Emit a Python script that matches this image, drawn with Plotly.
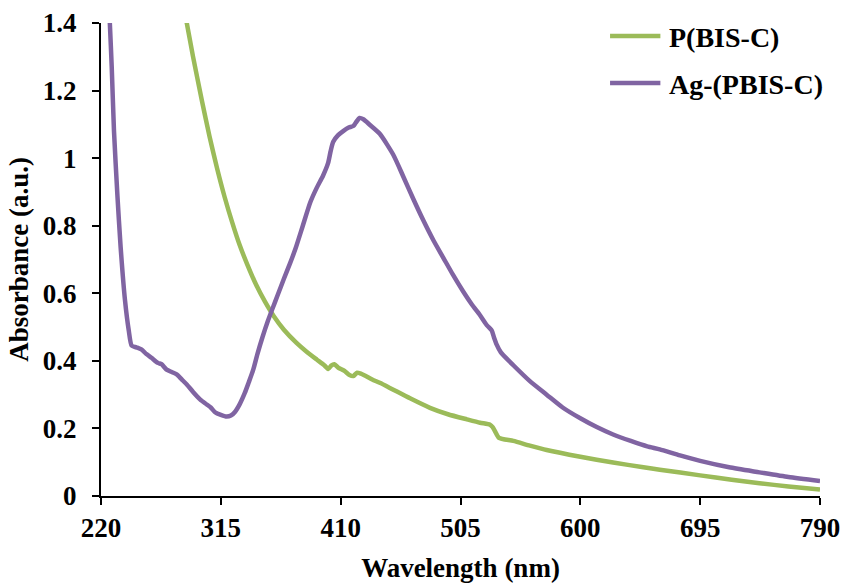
import plotly.graph_objects as go

# UV-Vis absorbance spectra
wl_pbis = [287, 293, 300, 306, 312, 318, 324, 330, 336, 343, 350, 357,
           365, 375, 383, 391, 397, 400.2, 402.5, 405, 408, 413, 417, 420, 423, 426, 435,
           441, 449, 465, 480.8, 495, 510, 520.5, 528.4, 530.5, 532.3, 535.5, 546.9, 560,
           573.3, 600, 626, 650, 663, 695, 720, 742, 765, 790]
abs_pbis = [1.42, 1.30, 1.17, 1.065, 0.97, 0.885, 0.81, 0.742, 0.685, 0.625, 0.575, 0.532,
            0.492, 0.453, 0.427, 0.404, 0.387, 0.376, 0.386, 0.39, 0.38, 0.37, 0.358, 0.355, 0.365, 0.362, 0.345,
            0.335, 0.32, 0.289, 0.261, 0.242, 0.227, 0.217, 0.211, 0.204, 0.192, 0.172, 0.163, 0.149,
            0.136, 0.116, 0.099, 0.085, 0.078, 0.061, 0.048, 0.038, 0.028, 0.019]

wl_ag = [223, 225, 227, 228.5, 230.3, 233, 235.5, 239, 242, 244.3, 248, 252, 256, 260, 265, 268,
         272, 276, 280, 284, 288, 293, 298.5, 303.8, 307, 310.4, 315, 319.6, 323, 326, 330, 334,
         337, 340.7, 344, 348, 352, 356, 360, 365, 370, 374, 380, 386, 391, 396,
         400, 402, 404, 408, 412, 416, 420, 422, 425, 428, 433, 441, 451.7, 459.7, 467.6,
         475.5, 483.5, 491.4, 499, 507, 514, 520.5, 526, 529.7, 531.5, 533.7, 537, 546.9, 560,
         573.3, 586, 600, 613, 626, 640, 653, 663, 679, 695, 718, 742, 765, 790]
abs_ag = [1.68, 1.55, 1.40, 1.27, 1.08, 0.89, 0.74, 0.58, 0.49, 0.445, 0.44, 0.434, 0.42, 0.409, 0.394, 0.39,
          0.374, 0.367, 0.36, 0.345, 0.33, 0.308, 0.286, 0.271, 0.262, 0.248, 0.24, 0.235, 0.238, 0.248, 0.272, 0.305,
          0.335, 0.374, 0.42, 0.47, 0.515, 0.555, 0.594, 0.643, 0.69, 0.73, 0.8, 0.87, 0.912, 0.948,
          0.985, 1.02, 1.048, 1.068, 1.08, 1.09, 1.095, 1.105, 1.119, 1.115, 1.099, 1.072, 1.01, 0.945, 0.879,
          0.816, 0.757, 0.705, 0.655, 0.606, 0.567, 0.535, 0.505, 0.49, 0.47, 0.448, 0.425, 0.387, 0.34,
          0.3, 0.262, 0.23, 0.204, 0.182, 0.163, 0.147, 0.138, 0.12, 0.104, 0.085, 0.07, 0.056, 0.044]

series_names = ["P(BIS-C)", "Ag-(PBIS-C)"]
series_colors = ["#9BBB59", "#8064A2"]

x_ticks = [220, 315, 410, 505, 600, 695, 790]
y_ticks = [0, 0.2, 0.4, 0.6, 0.8, 1, 1.2, 1.4]

FONT = "Liberation Serif, Times New Roman, serif"
FS = 27

fig = go.Figure()
for name, color, xs, ys in zip(series_names, series_colors, [wl_pbis, wl_ag], [abs_pbis, abs_ag]):
    fig.add_trace(go.Scatter(x=xs, y=ys, mode="lines", name=name,
                             line=dict(color=color, width=4.5, shape="spline", smoothing=0.6),
                             showlegend=False))

# legend drawn as line samples plus labels in the top-right corner
legend_y = [0.9725, 0.873]
for name, color, ly in zip(series_names, series_colors, legend_y):
    fig.add_shape(type="line", xref="paper", yref="paper", x0=0.708, x1=0.778, y0=ly, y1=ly,
                  line=dict(color=color, width=4.5))
    fig.add_annotation(xref="paper", yref="paper", x=0.787, y=ly - 0.003, text="<b>%s</b>" % name,
                       showarrow=False, xanchor="left", yanchor="middle",
                       font=dict(family=FONT, size=FS + 1, color="black"))

axis_common = dict(showline=True, linecolor="black", linewidth=2, ticks="outside",
                   tickcolor="black", ticklen=7, tickwidth=2, showgrid=False, zeroline=False,
                   automargin=False, tickfont=dict(family=FONT, size=FS, color="black"))

fig.update_xaxes(range=[220, 790], tickvals=x_ticks, ticktext=["<b>%d</b>" % v for v in x_ticks],
                 title=dict(text="<b>Wavelength (nm)</b>", font=dict(family=FONT, size=FS, color="black"),
                            standoff=22),
                 ticklabelstandoff=0, **axis_common)
fig.update_yaxes(range=[0, 1.4], tickvals=y_ticks, ticktext=["<b>%g</b>" % v for v in y_ticks],
                 title=dict(text="<b>Absorbance (a.u.)</b>", font=dict(family=FONT, size=FS, color="black"),
                            standoff=6),
                 ticklabelstandoff=10, **axis_common)

fig.update_layout(width=845, height=583, margin=dict(l=101, r=25, t=23, b=87),
                  plot_bgcolor="white", paper_bgcolor="white")

fig.write_html("out.html")
